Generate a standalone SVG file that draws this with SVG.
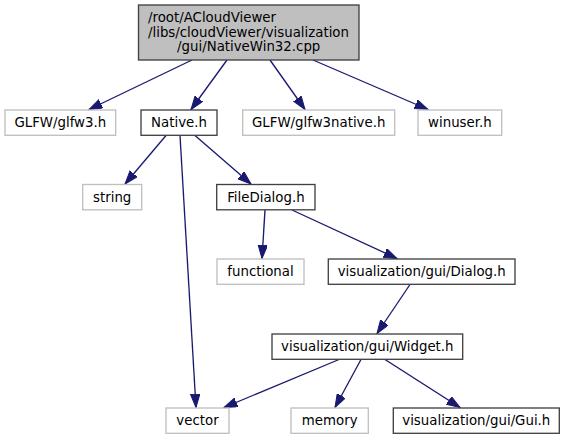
<svg xmlns="http://www.w3.org/2000/svg" width="565" height="440" viewBox="0 0 565 440">
<style>
  text { font-family: "DejaVu Sans", "Liberation Sans", sans-serif; font-size: 13.33px; fill: #000; }
  .c { text-anchor: middle; }
  .main rect { fill: #bfbfbf; stroke: #404040; stroke-width: 1.33; }
  .dark rect { fill: #fff; stroke: #404040; stroke-width: 1.33; }
  .sys rect { fill: #fff; stroke: #bfbfbf; stroke-width: 1.33; }
  #edges path { fill: none; stroke: #191970; stroke-width: 1.33; marker-end: url(#ah); }
</style>
<defs>
  <marker id="ah" markerUnits="userSpaceOnUse" markerWidth="14" markerHeight="10" refX="13.3" refY="4.67" orient="auto">
    <path d="M0,0 L13.3,4.67 L0,9.33 z" fill="#191970" stroke="#191970" stroke-width="1"/>
  </marker>
</defs>
<rect width="565" height="440" fill="#fff"/>
<g id="edges">
  <path d="M192,60 L89,109.5"/>
  <path d="M227,60 L191,109.5"/>
  <path d="M270,60 L305,109.5"/>
  <path d="M313,60 L428,109.5"/>
  <path d="M166,135.5 L125,184"/>
  <path d="M180,135.5 L196,407.5"/>
  <path d="M195,135.5 L251,184"/>
  <path d="M265,210 L262,258.5"/>
  <path d="M292,210 L397,258.5"/>
  <path d="M410,284.5 L377,333.5"/>
  <path d="M339,359.5 L224,407.5"/>
  <path d="M361,359.5 L335,407.5"/>
  <path d="M385,359.5 L460,407.5"/>
</g>
<g id="node_main" class="main">
  <rect x="138.5" y="5" width="220.5" height="55"/>
  <text x="148" y="22">/root/ACloudViewer</text>
  <text x="148" y="36.5">/libs/cloudViewer/visualization</text>
  <text class="c" x="248.7" y="51">/gui/NativeWin32.cpp</text>
</g>
<g id="node_glfw3" class="sys">
  <rect x="5" y="110" width="110.7" height="25.3"/>
  <text class="c" x="60.3" y="127.3">GLFW/glfw3.h</text>
</g>
<g id="node_native" class="dark">
  <rect x="141" y="110" width="76" height="25.3"/>
  <text class="c" x="179" y="127.3">Native.h</text>
</g>
<g id="node_glfw3native" class="sys">
  <rect x="242.7" y="110" width="152" height="25.3"/>
  <text class="c" x="318.7" y="127.3">GLFW/glfw3native.h</text>
</g>
<g id="node_winuser" class="sys">
  <rect x="418" y="110" width="83.7" height="25.3"/>
  <text class="c" x="459.9" y="127.3">winuser.h</text>
</g>
<g id="node_string" class="sys">
  <rect x="82.7" y="184.5" width="59" height="25.3"/>
  <text class="c" x="112.2" y="201.8">string</text>
</g>
<g id="node_filedialog" class="dark">
  <rect x="216.7" y="184.5" width="98.3" height="25.3"/>
  <text class="c" x="265.9" y="201.8">FileDialog.h</text>
</g>
<g id="node_functional" class="sys">
  <rect x="217" y="259" width="87" height="25.3"/>
  <text class="c" x="260.5" y="276.3">functional</text>
</g>
<g id="node_dialog" class="dark">
  <rect x="328.3" y="259" width="186.7" height="25.3"/>
  <text class="c" x="421.7" y="276.3">visualization/gui/Dialog.h</text>
</g>
<g id="node_widget" class="dark">
  <rect x="272" y="334" width="190.7" height="25.3"/>
  <text class="c" x="367.3" y="351.3">visualization/gui/Widget.h</text>
</g>
<g id="node_vector" class="sys">
  <rect x="166" y="408" width="63" height="25.3"/>
  <text class="c" x="197.5" y="425.3">vector</text>
</g>
<g id="node_memory" class="sys">
  <rect x="291" y="408" width="77.3" height="25.3"/>
  <text class="c" x="329.7" y="425.3">memory</text>
</g>
<g id="node_gui" class="dark">
  <rect x="393.3" y="408" width="166" height="25.3"/>
  <text class="c" x="476.3" y="425.3">visualization/gui/Gui.h</text>
</g>
</svg>
